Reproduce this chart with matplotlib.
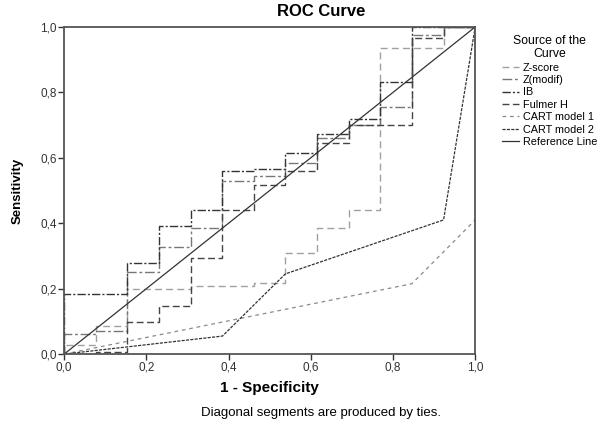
import matplotlib
matplotlib.use('Agg')
import matplotlib.pyplot as plt
from matplotlib.ticker import FuncFormatter

plt.rcParams['font.family'] = ['Liberation Sans', 'DejaVu Sans']

# step positions of 1 - specificity (13 negatives)
fpr_steps = [0.0, 0.077, 0.154, 0.231, 0.308, 0.385, 0.462, 0.538,
             0.615, 0.692, 0.769, 0.846, 0.923, 1.0]

# sensitivity level on each interval between the step positions
zscore = [0.027, 0.086, 0.198, 0.200, 0.209, 0.209, 0.218, 0.308,
          0.384, 0.440, 0.935, 0.935, 1.0]
zmodif = [0.061, 0.071, 0.252, 0.328, 0.384, 0.530, 0.545, 0.583,
          0.661, 0.700, 0.756, 0.976, 1.0]
ib = [0.183, 0.183, 0.279, 0.391, 0.440, 0.560, 0.566, 0.616,
      0.672, 0.718, 0.833, 1.0, 1.0]
fulmer = [0.0, 0.007, 0.099, 0.147, 0.293, 0.440, 0.517, 0.560,
          0.646, 0.700, 0.700, 0.965, 1.0]

# CART models are drawn as polylines
cart1_x = [0.0, 0.846, 1.0, 1.0]
cart1_y = [0.0, 0.215, 0.41, 1.0]
cart2_x = [0.0, 0.385, 0.538, 0.923, 1.0]
cart2_y = [0.0, 0.055, 0.245, 0.41, 1.0]


def step_xy(levels):
    xs = [0.0] + fpr_steps[:-1] + [1.0, 1.0]
    ys = [0.0] + levels + [levels[-1], 1.0]
    return xs, ys


fig = plt.figure(figsize=(6.0, 4.21), dpi=100)
ax = fig.add_axes([0.107, 0.159, 0.685, 0.777])

x, y = step_xy(zscore)
ax.step(x, y, where='post', color='#a0a0a0', lw=1.0, dashes=(5, 3), label='Z-score')
x, y = step_xy(zmodif)
ax.step(x, y, where='post', color='#777777', lw=1.0, dashes=(7, 2, 2, 2), label='Z(modif)')
x, y = step_xy(ib)
ax.step(x, y, where='post', color='#333333', lw=1.0, dashes=(6, 1.5, 1.5, 1.5), label='IB')
x, y = step_xy(fulmer)
ax.step(x, y, where='post', color='#444444', lw=1.0, dashes=(5, 2.5), label='Fulmer H')
ax.plot(cart1_x, cart1_y, color='#8a8a8a', lw=0.9, dashes=(3, 3), label='CART model 1')
ax.plot(cart2_x, cart2_y, color='#333333', lw=0.9, dashes=(2.5, 1), label='CART model 2')
ax.plot([0, 1], [0, 1], color='#333333', lw=0.9, label='Reference Line')

ax.set_xlim(0, 1)
ax.set_ylim(0, 1)
ticks = [0.0, 0.2, 0.4, 0.6, 0.8, 1.0]
ax.set_xticks(ticks)
ax.set_yticks(ticks)
fmt = FuncFormatter(lambda v, p: ('%.1f' % v).replace('.', ','))
ax.xaxis.set_major_formatter(fmt)
ax.yaxis.set_major_formatter(fmt)
ax.tick_params(direction='out', length=4, width=1, labelsize=8.5, colors='#333333', pad=1.5)
for s in ax.spines.values():
    s.set_color('#555555')
    s.set_linewidth(1.3)

ax.set_xlabel('1 - Specificity', fontsize=11, weight='bold', labelpad=5)
ax.set_ylabel('Sensitivity', fontsize=9.5, weight='bold', labelpad=12)
fig.text(0.535, 1 - 12 / 421, 'ROC Curve', ha='center', va='center', fontsize=12, weight='bold')
fig.text(0.535, 1 - 413 / 421, 'Diagonal segments are produced by ties.', ha='center',
         va='center', fontsize=9.5)

leg = ax.legend(loc='upper left', bbox_to_anchor=(1.055, 0.99), frameon=False,
                fontsize=7.8, handlelength=1.6, handletextpad=0.3, labelspacing=0.22,
                title='Source of the\nCurve', title_fontsize=8.8, borderaxespad=0)
leg._legend_box.align = 'center'
leg.get_title().set_multialignment('center')

plt.savefig('out.png', dpi=100)
plt.close()
